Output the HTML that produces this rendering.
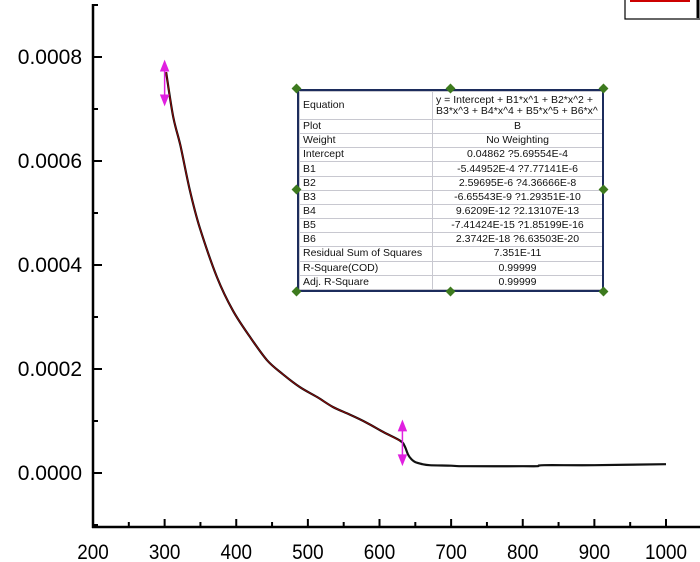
<!DOCTYPE html>
<html><head><meta charset="utf-8"><style>
body{margin:0;background:#fff;width:700px;height:562px;overflow:hidden;font-family:"Liberation Sans",sans-serif}
svg{position:absolute;left:0;top:0}
#fit{position:absolute;left:297px;top:89px;width:307px;height:203px;border:2px solid #1c2c5c;box-sizing:border-box;background:#fff;overflow:hidden}
#fit table{border-collapse:collapse;table-layout:fixed;width:303px;height:199px;font-size:10.5px;color:#111}
#fit td{border:1px solid #c8c8d0;padding:0 3px;line-height:11px;white-space:nowrap;overflow:hidden}
#fit td.v{text-align:center}
.h{position:absolute;width:7px;height:7px;background:#3d7a1e;transform:rotate(45deg)}
</style></head><body>
<svg width="700" height="562">
<g id="axes"></g><g id="series"></g>
<rect x="625" y="-2" width="80" height="21" fill="#fff" stroke="#000" stroke-width="1.2"/>
<line x1="630" y1="1" x2="690" y2="1" stroke="#c00" stroke-width="2"/>
<line x1="698" y1="0" x2="698" y2="18" stroke="#000" stroke-width="3"/>
</svg>
<div id="fit"><table>
<colgroup><col style="width:133px"><col style="width:170px"></colgroup>
<tr style="height:28px"><td>Equation</td><td class="v" style="text-align:left">y = Intercept + B1*x^1 + B2*x^2 +<br>B3*x^3 + B4*x^4 + B5*x^5 + B6*x^</td></tr>
<tr><td>Plot</td><td class="v">B</td></tr>
<tr><td>Weight</td><td class="v">No Weighting</td></tr>
<tr><td>Intercept</td><td class="v">0.04862 ?5.69554E-4</td></tr>
<tr><td>B1</td><td class="v">-5.44952E-4 ?7.77141E-6</td></tr>
<tr><td>B2</td><td class="v">2.59695E-6 ?4.36666E-8</td></tr>
<tr><td>B3</td><td class="v">-6.65543E-9 ?1.29351E-10</td></tr>
<tr><td>B4</td><td class="v">9.6209E-12 ?2.13107E-13</td></tr>
<tr><td>B5</td><td class="v">-7.41424E-15 ?1.85199E-16</td></tr>
<tr><td>B6</td><td class="v">2.3742E-18 ?6.63503E-20</td></tr>
<tr><td>Residual Sum of Squares</td><td class="v">7.351E-11</td></tr>
<tr><td>R-Square(COD)</td><td class="v">0.99999</td></tr>
<tr><td>Adj. R-Square</td><td class="v">0.99999</td></tr>
</table></div>
<div class="h" style="left:293px;top:85px"></div><div class="h" style="left:447px;top:85px"></div><div class="h" style="left:600px;top:85px"></div>
<div class="h" style="left:293px;top:186px"></div><div class="h" style="left:600px;top:186px"></div>
<div class="h" style="left:293px;top:288px"></div><div class="h" style="left:447px;top:288px"></div><div class="h" style="left:600px;top:288px"></div>
<script>
const xTicks=[200,300,400,500,600,700,800,900,1000];
const yTicks=[0,0.0002,0.0004,0.0006,0.0008];
const yTickLabels=["0.0000","0.0002","0.0004","0.0006","0.0008"];
const xVals=[302,312,322,335,349,373,395,419,443,465,489,513,535,559,583,605,629,635,640,645,650,660,670,700,720,800,820,830,900,1000];
const yVals=[0.000771,0.000685,0.000630,0.000545,0.000472,0.000377,0.000313,0.000262,0.000217,0.000190,0.000165,0.000146,0.000127,0.000112,0.000096,0.000079,0.000062,0.000052,0.000035,0.000026,0.000021,0.000017,0.000015,0.000014,0.000013,0.000013,0.000013,0.000015,0.000015,0.000017];
const arrowX=[300,632];
const NS="http://www.w3.org/2000/svg";
const X=v=>93+(v-200)*0.71625;
const Y=v=>473-v*520000;
const ax=document.getElementById('axes'),se=document.getElementById('series');
function mk(p,tag,a){const e=document.createElementNS(NS,tag);for(const k in a)e.setAttribute(k,a[k]);p.appendChild(e);return e;}
let l=mk(ax,'line',{x1:93,y1:4,x2:93,y2:528,stroke:'#000','stroke-width':2.5});


l=mk(ax,'line',{x1:92,y1:527,x2:700,y2:527,stroke:'#000','stroke-width':2.5});


xTicks.forEach((t,i)=>{
  const x=X(t);
  mk(ax,'line',{x1:x,y1:527,x2:x,y2:519,stroke:'#000','stroke-width':2});
  if(i<xTicks.length-1)mk(ax,'line',{x1:X(t+50),y1:527,x2:X(t+50),y2:522,stroke:'#000','stroke-width':2});
  const tx=mk(ax,'text',{x:x,y:559,'text-anchor':'middle','font-size':21,fill:'#000',textLength:String(t).length*10.5,lengthAdjust:'spacingAndGlyphs'});
  tx.textContent=t;
  
  
});
yTicks.forEach((t,i)=>{
  const y=Y(t);
  mk(ax,'line',{x1:93,y1:y,x2:102,y2:y,stroke:'#000','stroke-width':2});
  const tx=mk(ax,'text',{x:82,y:y+7,'text-anchor':'end','font-size':21,fill:'#000'});
  tx.textContent=yTickLabels[i];
  
  
});
[-0.0001,0.0001,0.0003,0.0005,0.0007,0.0009].forEach(t=>{const y=Y(t);if(y>4&&y<527)mk(ax,'line',{x1:93,y1:y,x2:98,y2:y,stroke:'#000','stroke-width':2});});
function smooth(P){let d='M'+P[0][0].toFixed(1)+','+P[0][1].toFixed(1);
  for(let i=0;i<P.length-1;i++){const p0=P[i-1]||P[i],p1=P[i],p2=P[i+1],p3=P[i+2]||p2;
    const c1=[p1[0]+(p2[0]-p0[0])/6,p1[1]+(p2[1]-p0[1])/6],c2=[p2[0]-(p3[0]-p1[0])/6,p2[1]-(p3[1]-p1[1])/6];
    d+=` C${c1[0].toFixed(1)},${c1[1].toFixed(1)} ${c2[0].toFixed(1)},${c2[1].toFixed(1)} ${p2[0].toFixed(1)},${p2[1].toFixed(1)}`;}
  return d;}
const P=xVals.map((v,i)=>[X(v),Y(yVals[i])]);
const pl=mk(se,'path',{d:smooth(P),fill:'none',stroke:'#111','stroke-width':2.2,'stroke-linejoin':'round'});


const fp=mk(se,'path',{d:smooth(P.filter((p,i)=>xVals[i]<=630)),fill:'none',stroke:'#c00','stroke-width':0.8,opacity:0.8});


arrowX.forEach((v,k)=>{
  const x=X(v);const yc=k==0?Y(0.00075):Y(0.000058);
  const g=mk(se,'g',{fill:'#e020e0',stroke:'#e020e0'});
  
  
  mk(g,'line',{x1:x,y1:yc-20,x2:x,y2:yc+20,'stroke-width':1.5});
  mk(g,'polygon',{points:`${x-4},${yc-12} ${x+4},${yc-12} ${x},${yc-22}`});
  mk(g,'polygon',{points:`${x-4},${yc+12} ${x+4},${yc+12} ${x},${yc+22}`});
});
</script>
</body></html>
